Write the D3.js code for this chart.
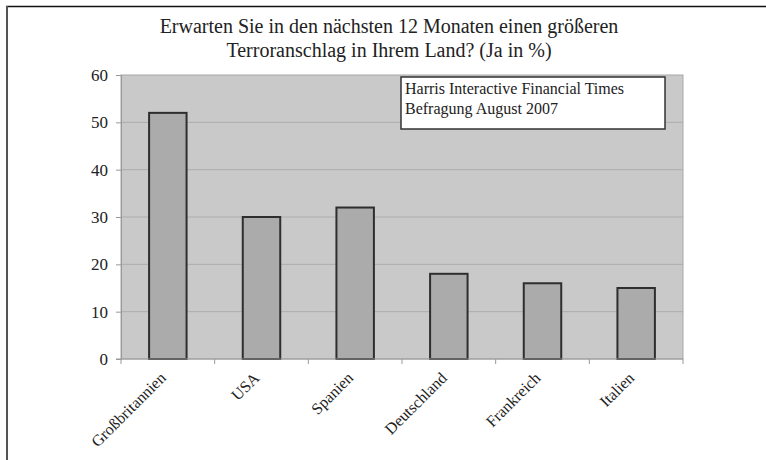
<!DOCTYPE html>
<html>
<head>
<meta charset="utf-8">
<script src="https://cdn.jsdelivr.net/npm/d3@7"></script>
<style>
body { margin: 0; background: #fff; }
svg { display: block; font-family: "Liberation Serif", "DejaVu Serif", serif; }
svg text { font-family: "Liberation Serif", "DejaVu Serif", serif !important; }
</style>
</head>
<body>
<svg id="chart" width="766" height="460"></svg>
<script>
// data
var countries = ["Großbritannien", "USA", "Spanien", "Deutschland", "Frankreich", "Italien"]
var yes_pct = [52, 30, 32, 18, 16, 15]
var y_ticks = [0, 10, 20, 30, 40, 50, 60]
var title_lines = ["Erwarten Sie in den nächsten 12 Monaten einen größeren",
                   "Terroranschlag in Ihrem Land? (Ja in %)"]
var note_lines = ["Harris Interactive Financial Times", "Befragung August 2007"]

const svg = d3.select("#chart")
const plot = { left: 121, right: 683, top: 75, bottom: 359 }

// frame around the figure (only top and left show)
svg.append("line").attr("x1", 6).attr("x2", 766).attr("y1", 6.5).attr("y2", 6.5)
    .attr("stroke", "#111").attr("stroke-width", 1.5)
svg.append("line").attr("x1", 7).attr("x2", 7).attr("y1", 6).attr("y2", 460)
    .attr("stroke", "#555").attr("stroke-width", 2)

var x = d3.scaleBand().domain(countries).range([plot.left, plot.right]).paddingInner(0.6).paddingOuter(0.3)
var xOuter = d3.scaleBand().domain(countries).range([plot.left, plot.right])
var y = d3.scaleLinear().domain([0, 60]).range([plot.bottom, plot.top])

svg.append("rect")
    .attr("x", plot.left).attr("y", plot.top)
    .attr("width", plot.right - plot.left).attr("height", plot.bottom - plot.top)
    .attr("fill", "#c9c9c9").attr("stroke", "#a8a8a8")

// gridlines
svg.append("g").selectAll("line")
    .data(y_ticks.filter(d => d > 0 && d < 60))
    .join("line")
    .attr("x1", plot.left).attr("x2", plot.right)
    .attr("y1", d => y(d)).attr("y2", d => y(d))
    .attr("stroke", "#adadad").attr("stroke-width", 1)

// bars
svg.append("g").selectAll("rect")
    .data(countries)
    .join("rect")
    .attr("x", d => x(d))
    .attr("width", x.bandwidth())
    .attr("y", (d, i) => y(yes_pct[i]))
    .attr("height", (d, i) => y(0) - y(yes_pct[i]))
    .attr("fill", "#ababab").attr("stroke", "#2e2e2e").attr("stroke-width", 2)

// y axis
const yAxis = svg.append("g").attr("transform", `translate(${plot.left},0)`)
    .call(d3.axisLeft(y).tickValues(y_ticks).tickSize(5).tickPadding(8))
    .attr("font-size", 17)
yAxis.select(".domain").attr("stroke", "#999")
yAxis.selectAll(".tick line").attr("stroke", "#999")
yAxis.selectAll(".tick text").attr("fill", "#222")

// x axis: ticks at category boundaries
svg.append("line").attr("x1", plot.left - 5).attr("x2", plot.right)
    .attr("y1", plot.bottom).attr("y2", plot.bottom).attr("stroke", "#999")
svg.append("g").selectAll("line")
    .data(countries.concat(["end"]))
    .join("line")
    .attr("x1", (d, i) => i < countries.length ? xOuter(d) : plot.right)
    .attr("x2", (d, i) => i < countries.length ? xOuter(d) : plot.right)
    .attr("y1", plot.bottom).attr("y2", plot.bottom + 5)
    .attr("stroke", "#999")

svg.append("g").selectAll("text")
    .data(countries)
    .join("text")
    .attr("transform", d => `translate(${x(d) + x.bandwidth() / 2 - 5},${plot.bottom + 16}) rotate(-45)`)
    .attr("text-anchor", "end")
    .attr("dy", "0.35em")
    .attr("font-size", 16)
    .attr("fill", "#222")
    .text(d => d)

// title
svg.append("g").selectAll("text")
    .data(title_lines)
    .join("text")
    .attr("x", 389).attr("y", (d, i) => 33 + i * 24)
    .attr("text-anchor", "middle")
    .attr("font-size", 20)
    .attr("fill", "#222")
    .text(d => d)

// note box
svg.append("rect").attr("x", 401).attr("y", 77).attr("width", 264).attr("height", 52)
    .attr("fill", "#fff").attr("stroke", "#333").attr("stroke-width", 1.5)
svg.append("g").selectAll("text")
    .data(note_lines)
    .join("text")
    .attr("x", 405).attr("y", (d, i) => 94 + i * 20)
    .attr("font-size", 16)
    .attr("fill", "#222")
    .text(d => d)
</script>
</body>
</html>
